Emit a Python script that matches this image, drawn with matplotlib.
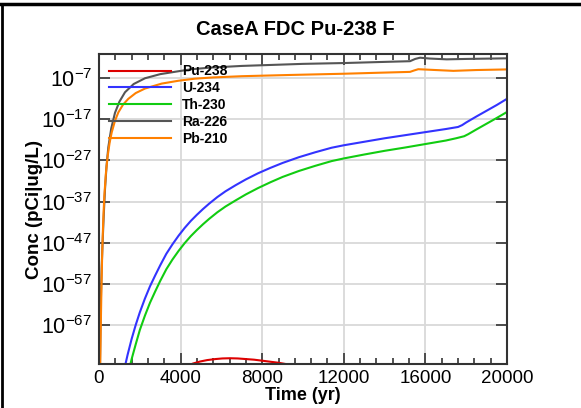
import numpy as np
import matplotlib
matplotlib.use("Agg")
import matplotlib.pyplot as plt
from matplotlib.ticker import FixedLocator, MultipleLocator, LogFormatterMathtext
from matplotlib.lines import Line2D

plt.rcParams['font.family'] = ['Liberation Sans', 'DejaVu Sans']
plt.rcParams['mathtext.fontset'] = 'custom'
plt.rcParams['mathtext.rm'] = 'Liberation Sans'
plt.rcParams['axes.unicode_minus'] = False

title = "CaseA FDC Pu-238 F"
xlabel = "Time (yr)"
ylabel = "Conc (pCi|ug/L)"

# Data: log10 of concentration
t_pu238 = [4000, 4265, 4600, 4951, 5300, 5700, 6050, 6422, 6800, 7200, 7600, 8005,
           8400, 8800, 9200, 9525, 10015, 10500]
lg_pu238 = [-78, -77.1, -76.4, -75.9, -75.55, -75.3, -75.15, -75.1, -75.15, -75.3, -75.45,
            -75.7, -75.95, -76.2, -76.55, -76.9, -77.3, -78]

t_u234 = [1150, 1275, 1400, 1600, 1800, 2000, 2250, 2500, 2750, 3000, 3300, 3600, 3900,
          4200, 4500, 4800, 5100, 5400, 5800, 6200, 6700, 7200, 7800, 8400, 9000, 9800,
          10600, 11400, 12000, 13000, 14000, 15000, 16000, 17000, 17600, 17800, 18000,
          18500, 19000, 19500, 20000]
lg_u234 = [-80, -77.0, -74.3, -70.4, -67.0, -63.95, -60.6, -57.6, -55.0, -52.5, -49.7,
           -47.4, -45.3, -43.4, -41.7, -40.2, -38.8, -37.5, -35.9, -34.5, -33.0, -31.6,
           -30.1, -28.8, -27.6, -26.2, -25.0, -23.9, -23.3, -22.45, -21.6, -20.85, -20.1,
           -19.35, -18.85, -18.4, -17.75, -16.3, -14.9, -13.5, -12.0]

t_th230 = [1400, 1520, 1600, 1800, 2000, 2250, 2500, 2750, 3000, 3300, 3600, 3900, 4200,
           4500, 4800, 5100, 5400, 5800, 6200, 6700, 7200, 7800, 8400, 9000, 9800, 10600,
           11400, 12000, 13000, 14000, 15000, 16000, 17000, 17500, 17900, 18100, 18500,
           19000, 19500, 20000]
lg_th230 = [-79.3, -77.0, -75.3, -71.7, -68.25, -64.75, -61.6, -58.9, -56.3, -53.45,
            -51.1, -49.0, -47.1, -45.4, -43.9, -42.5, -41.2, -39.6, -38.2, -36.7, -35.25,
            -33.7, -32.3, -31.0, -29.55, -28.3, -27.15, -26.5, -25.55, -24.65, -23.85,
            -23.0, -22.15, -21.6, -21.1, -20.6, -19.45, -18.05, -16.65, -15.2]

t_ra226 = [0, 49, 70, 90, 110, 132, 170, 211, 250, 294, 370, 456, 600, 784, 1000, 1275,
           1700, 2255, 3000, 3887, 4544, 5500, 7000, 8500, 10000, 12000, 13775, 15245,
           15500, 15735, 16200, 17040, 18000, 20000]
lg_ra226 = [-90, -76.5, -68, -61.5, -57, -53, -47.8, -42.8, -38.5, -34, -28.3, -23.8,
            -19.2, -15.4, -12.7, -10.4, -8.4, -7.0, -6.0, -5.3, -4.8, -4.4, -4.0, -3.75,
            -3.5, -3.3, -3.05, -2.85, -2.3, -2.0, -2.2, -2.4, -2.3, -2.15]

t_pb210 = [0, 60, 98, 130, 162, 210, 260, 340, 426, 520, 622, 780, 948, 1180, 1438, 1800,
           2255, 3072, 3900, 4706, 5588, 7000, 9363, 12000, 13775, 15245, 15450, 15650,
           16500, 17370, 18500, 20000]
lg_pb210 = [-90, -76.5, -64.3, -55.5, -48.5, -41.3, -35.7, -30.0, -25.9, -22.7, -20.2,
            -17.4, -15.3, -13.4, -12.0, -10.6, -9.5, -8.3, -7.6, -7.1, -6.8, -6.5, -6.2,
            -5.9, -5.65, -5.45, -5.1, -4.8, -5.0, -5.2, -5.0, -4.85]

series = [
    ("Pu-238", t_pu238, lg_pu238, "#dd0000"),
    ("U-234", t_u234, lg_u234, "#3333ff"),
    ("Th-230", t_th230, lg_th230, "#11cc11"),
    ("Ra-226", t_ra226, lg_ra226, "#555555"),
    ("Pb-210", t_pb210, lg_pb210, "#ff8000"),
]

ytick_exps = [-67, -57, -47, -37, -27, -17, -7]
xticks = [0, 4000, 8000, 12000, 16000, 20000]

fig = plt.figure(figsize=(5.81, 4.08), dpi=100)
ax = fig.add_axes([99/581, 1-364/408, (507-99)/581, (364-54)/408])

for name, t, lg, c in series:
    ax.plot(t, 10.0**np.array(lg, dtype=float), color=c, lw=1.5, label=name)

ax.set_yscale('log')
ax.set_xlim(0, 20000)
ax.set_ylim(10**-76.5, 10**-1.1)
ax.yaxis.set_major_locator(FixedLocator([10.0**e for e in ytick_exps]))
ax.yaxis.set_minor_locator(FixedLocator([]))
ax.yaxis.set_major_formatter(LogFormatterMathtext())
ax.set_xticks(xticks)
ax.xaxis.set_minor_locator(MultipleLocator(800))

ax.grid(True, which='major', color='#d9d9d9', lw=1.3)
ax.set_axisbelow(True)
for s in ax.spines.values():
    s.set_color('#333333')
    s.set_linewidth(1.5)
ax.tick_params(which='both', direction='in', top=True, right=True, color='#333333')
ax.tick_params(which='major', length=8, width=1.2)
ax.tick_params(which='minor', length=4, width=1.2)
ax.tick_params(axis='x', labelsize=13.5, pad=4)
ax.tick_params(axis='y', labelsize=15.5, pad=5)

fig.text(295/581, 1-35/408, title, fontsize=14.5, fontweight='bold',
         ha='center', va='baseline')
ax.set_xlabel(xlabel, fontsize=13, fontweight='bold', labelpad=0)
ax.set_ylabel(ylabel, fontsize=13.5, fontweight='bold', labelpad=-1)

leg = ax.legend(loc='upper left', frameon=False,
                prop={'weight': 'bold', 'size': 10}, handlelength=4.4,
                handletextpad=0.8, labelspacing=0.2, borderaxespad=0.35)

fig.add_artist(Line2D([0, 1], [1-4/408, 1-4/408], color='black', lw=2.5, transform=fig.transFigure))
fig.add_artist(Line2D([1.5/581, 1.5/581], [0, 1-4/408], color='black', lw=2, transform=fig.transFigure))

fig.savefig("out.png", dpi=100)
